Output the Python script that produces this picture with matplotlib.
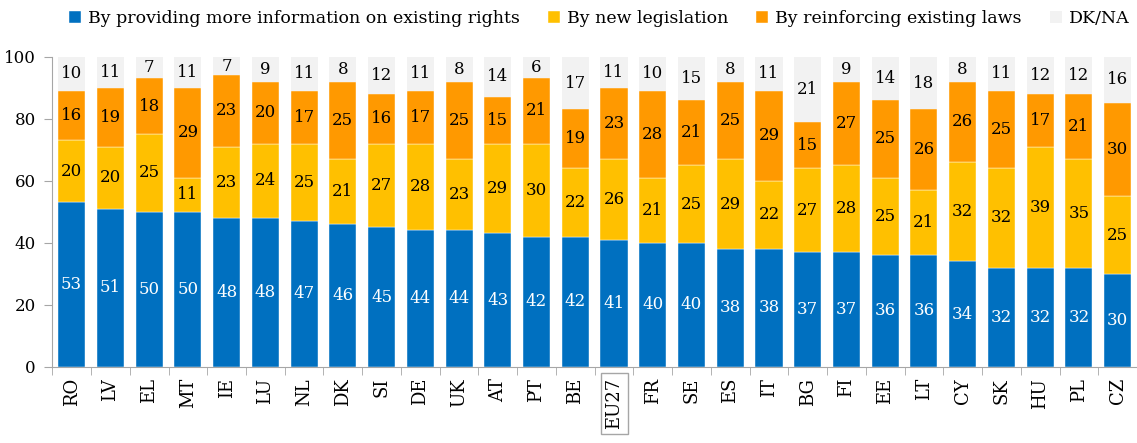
import matplotlib
matplotlib.use('Agg')
import matplotlib.pyplot as plt
import numpy as np

countries = ['RO', 'LV', 'EL', 'MT', 'IE', 'LU', 'NL', 'DK', 'SI', 'DE', 'UK', 'AT', 'PT', 'BE',
             'EU27', 'FR', 'SE', 'ES', 'IT', 'BG', 'FI', 'EE', 'LT', 'CY', 'SK', 'HU', 'PL', 'CZ']
info = [53, 51, 50, 50, 48, 48, 47, 46, 45, 44, 44, 43, 42, 42, 41, 40, 40, 38, 38, 37, 37, 36, 36, 34, 32, 32, 32, 30]
legis = [20, 20, 25, 11, 23, 24, 25, 21, 27, 28, 23, 29, 30, 22, 26, 21, 25, 29, 22, 27, 28, 25, 21, 32, 32, 39, 35, 25]
reinf = [16, 19, 18, 29, 23, 20, 17, 25, 16, 17, 25, 15, 21, 19, 23, 28, 21, 25, 29, 15, 27, 25, 26, 26, 25, 17, 21, 30]
dkna = [10, 11, 7, 11, 7, 9, 11, 8, 12, 11, 8, 14, 6, 17, 11, 10, 15, 8, 11, 21, 9, 14, 18, 8, 11, 12, 12, 16]

names = ['By providing more information on existing rights', 'By new legislation',
         'By reinforcing existing laws', 'DK/NA']
colors = ['#0070c0', '#ffc000', '#ff9900', '#f2f2f2']
txtcol = ['white', 'black', 'black', 'black']

plt.rcParams['font.family'] = ['DejaVu Serif']

fig = plt.figure(figsize=(11.37, 4.43), dpi=100)
ax = fig.add_axes([0.046, 0.172, 0.954, 0.7])

x = np.arange(len(countries))
bottom = np.zeros(len(countries))
series = [info, legis, reinf]
for vals, name, c, tc in zip(series, names[:3], colors[:3], txtcol[:3]):
    v = np.array(vals, dtype=float)
    ax.bar(x, v, bottom=bottom, width=0.7, color=c, label=name, edgecolor='white', linewidth=0.3)
    for xi, b, val in zip(x, bottom, v):
        ax.text(xi, b + val / 2, f'{int(val)}', ha='center', va='center', color=tc, fontsize=12)
    bottom += v

# DK/NA fills up to 100
rest = 100 - bottom
ax.bar(x, rest, bottom=bottom, width=0.7, color=colors[3], label=names[3])
for xi, b, r, val in zip(x, bottom, rest, dkna):
    ax.text(xi, b + r / 2, f'{val}', ha='center', va='center', color='black', fontsize=12)

ax.set_xlim(-0.5, len(countries) - 0.5)
ax.set_ylim(0, 100)
ax.set_yticks([0, 20, 40, 60, 80, 100])
ax.set_yticklabels(['0', '20', '40', '60', '80', '100'], fontsize=12)

ax.set_xticks(x)
ax.set_xticklabels(countries, rotation=90, fontsize=13)
ax.tick_params(axis='x', length=0, pad=8)
ax.set_xticks(np.arange(len(countries) + 1) - 0.5, minor=True)
ax.tick_params(axis='x', which='minor', length=6, color='#a6a6a6')
ax.tick_params(axis='y', length=6, color='#a6a6a6', pad=6)

for s in ['top', 'right']:
    ax.spines[s].set_visible(False)
ax.spines['left'].set_color('#a6a6a6')
ax.spines['bottom'].set_color('#a6a6a6')

for lbl in ax.get_xticklabels():
    if lbl.get_text() == 'EU27':
        lbl.set_bbox(dict(facecolor='white', edgecolor='#a6a6a6', boxstyle='square,pad=0.25'))

fig.legend(loc='center', bbox_to_anchor=(0.527, 0.958), ncol=4, frameon=False,
           fontsize=12.5, handlelength=0.7, handleheight=0.7, handletextpad=0.4,
           columnspacing=1.6, borderaxespad=0, borderpad=0)

fig.savefig('out.png', dpi=100)
